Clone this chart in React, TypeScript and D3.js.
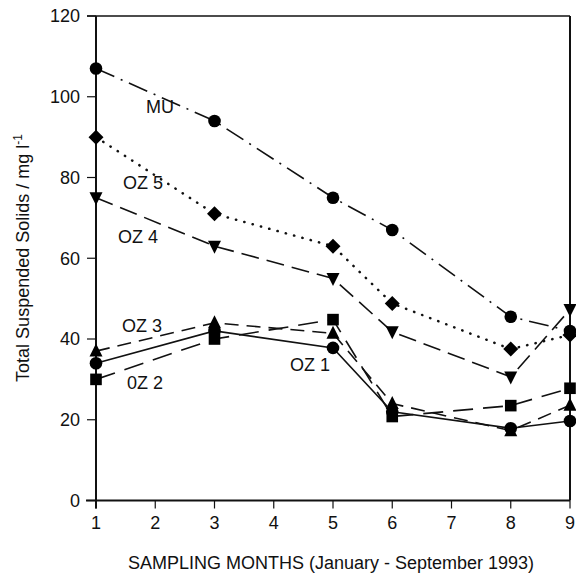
import React from "react";
import * as d3 from "d3";

const months = [1, 3, 5, 6, 8, 9];
const xTicks = [1, 2, 3, 4, 5, 6, 7, 8, 9];
const yTicks = [0, 20, 40, 60, 80, 100, 120];

const MU = [107, 94, 75, 67, 45.5, 42];
const OZ5 = [90, 71, 63, 48.8, 37.5, 41];
const OZ4 = [75, 63, 55, 41.8, 30.6, 47.3];
const OZ3 = [37, 44, 41.4, 24, 17.3, 23.6];
const OZ2 = [30, 40, 44.8, 20.8, 23.5, 27.8];
const OZ1 = [34, 42, 37.8, 22, 17.9, 19.7];

type Marker = "circle" | "diamond" | "down" | "up" | "square";

const series: { name: string; values: number[]; dash: string; marker: Marker; width: number; cap: string }[] = [
  { name: "MU", values: MU, dash: "20 7 2 7", marker: "circle", width: 1.6, cap: "butt" },
  { name: "OZ 5", values: OZ5, dash: "0.3 8.3", marker: "diamond", width: 2.5, cap: "round" },
  { name: "OZ 4", values: OZ4, dash: "18 8", marker: "down", width: 1.6, cap: "butt" },
  { name: "OZ 3", values: OZ3, dash: "14 8", marker: "up", width: 1.6, cap: "butt" },
  { name: "0Z 2", values: OZ2, dash: "20 10", marker: "square", width: 1.6, cap: "butt" },
  { name: "OZ 1", values: OZ1, dash: "", marker: "circle", width: 1.6, cap: "butt" },
];

const labels = [
  { text: "MU", x: 160, y: 107 },
  { text: "OZ 5", x: 143, y: 183 },
  { text: "OZ 4", x: 138, y: 237 },
  { text: "OZ 3", x: 142, y: 326 },
  { text: "0Z 2", x: 145, y: 383 },
  { text: "OZ 1", x: 310, y: 365 },
];

const x = d3.scaleLinear().domain([1, 9]).range([96, 570]);
const y = d3.scaleLinear().domain([0, 120]).range([500.5, 16]);

function markerPath(m: Marker, cx: number, cy: number): React.ReactNode {
  const s = 6.5;
  switch (m) {
    case "circle":
      return <circle cx={cx} cy={cy} r={6.3} fill="#000" />;
    case "square":
      return <rect x={cx - 5.8} y={cy - 5.8} width={11.6} height={11.6} fill="#000" />;
    case "diamond":
      return <path d={`M${cx},${cy - 7.5}L${cx + 7.5},${cy}L${cx},${cy + 7.5}L${cx - 7.5},${cy}Z`} fill="#000" />;
    case "up":
      return <path d={`M${cx},${cy - 7.5}L${cx + s},${cy + 5.5}L${cx - s},${cy + 5.5}Z`} fill="#000" />;
    case "down":
      return <path d={`M${cx},${cy + 7.5}L${cx + s},${cy - 5.5}L${cx - s},${cy - 5.5}Z`} fill="#000" />;
  }
}

export default function App() {
  const line = d3
    .line<number>()
    .x((_, i) => x(months[i]))
    .y((d) => y(d));
  const font = "'Liberation Sans', Arial, sans-serif";
  return (
    <svg width={576} height={577} style={{ position: "absolute", left: 0, top: 0, background: "#fff" }}>
      <rect width={576} height={577} fill="#fff" />
      <line x1={87} x2={570} y1={y(120)} y2={y(120)} stroke="#111" strokeWidth={1.6} />
      <line x1={570} x2={570} y1={y(120)} y2={y(0)} stroke="#111" strokeWidth={2} />
      <line x1={x(1)} x2={x(1)} y1={y(120)} y2={y(0) + 8} stroke="#111" strokeWidth={2} />
      <line x1={86} x2={570} y1={y(0)} y2={y(0)} stroke="#111" strokeWidth={2} />
      {yTicks.map((t) => (
        <g key={"y" + t}>
          <line x1={87} x2={x(1)} y1={y(t)} y2={y(t)} stroke="#111" strokeWidth={1.2} />
          <text x={80} y={y(t)} dy="0.35em" textAnchor="end" fontFamily={font} fontSize={18} fill="#111">
            {t}
          </text>
        </g>
      ))}
      {xTicks.map((t) => (
        <g key={"x" + t}>
          <line x1={x(t)} x2={x(t)} y1={y(0)} y2={y(0) + 8} stroke="#111" strokeWidth={1.2} />
          <text x={x(t)} y={523} dy="0.35em" textAnchor="middle" fontFamily={font} fontSize={18} fill="#111">
            {t}
          </text>
        </g>
      ))}
      <text x={331} y={563} dy="0.35em" textAnchor="middle" fontFamily={font} fontSize={18} fill="#111">
        SAMPLING MONTHS (January - September 1993)
      </text>
      <text
        transform="translate(23,258) rotate(-90)"
        textAnchor="middle"
        dy="0.35em"
        fontFamily={font}
        fontSize={18}
        fill="#111"
      >
        Total Suspended Solids / mg l<tspan dy="-7" fontSize={12}>-1</tspan>
      </text>
      {series.map((s) => (
        <g key={s.name}>
          <path
            d={line(s.values) || ""}
            fill="none"
            stroke="#111"
            strokeWidth={s.width}
            strokeDasharray={s.dash || undefined}
            strokeLinecap={s.cap as any}
          />
          {s.values.map((v, i) => (
            <g key={i}>{markerPath(s.marker, x(months[i]), y(v))}</g>
          ))}
        </g>
      ))}
      {labels.map((l) => (
        <text key={l.text} x={l.x} y={l.y} dy="0.35em" textAnchor="middle" fontFamily={font} fontSize={18} fill="#111">
          {l.text}
        </text>
      ))}
    </svg>
  );
}
